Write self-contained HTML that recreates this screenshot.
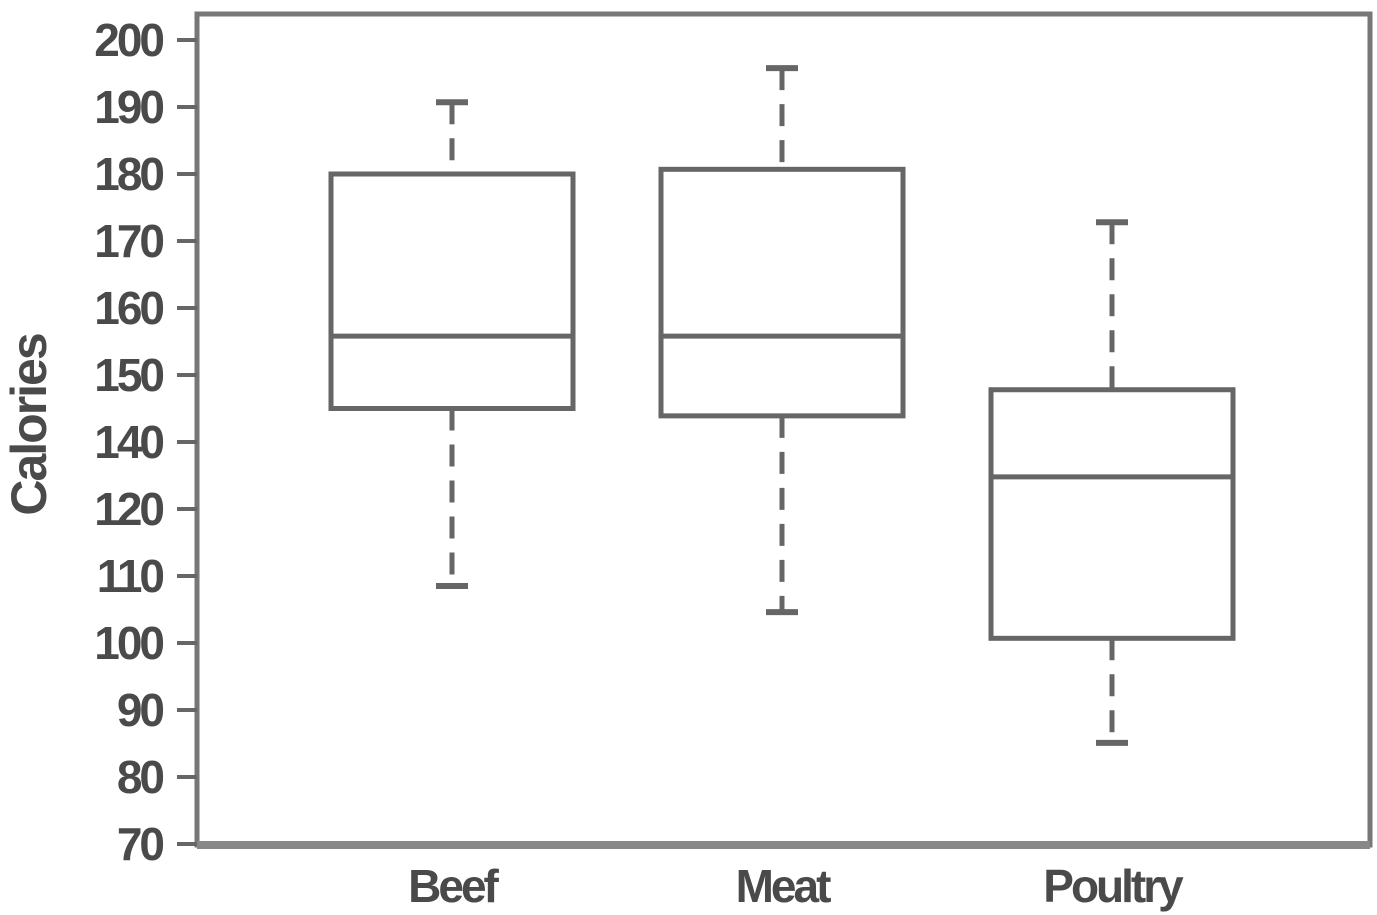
<!DOCTYPE html>
<html><head><meta charset="utf-8"><style>
html,body{margin:0;padding:0;background:#fff;}
svg{display:block;}
text{font-family:"Liberation Sans",sans-serif;fill:#4a4a4a;}
</style></head><body>
<svg id="chart" width="1377" height="915" viewBox="0 0 1377 915"></svg>
<script>
const categories = ["Beef", "Meat", "Poultry"];
const whiskerHigh = [190.7, 195.8, 172.8];
const q3Values = [180, 180.7, 147.8];
const medianValues = [155.8, 155.8, 134.8];
const q1Values = [145, 143.9, 110.7];
const whiskerLow = [118.5, 114.6, 95.1];
const tickValues = [200, 190, 180, 170, 160, 150, 140, 130, 120, 110, 100, 90, 80];
const tickLabels = ["200", "190", "180", "170", "160", "150", "140", "120", "110", "100", "90", "80", "70"];

const NS = "http://www.w3.org/2000/svg";
const svg = document.getElementById("chart");
const L = 197, R = 1370, T = 14, B = 845;
const yMax = 200, yMin = 80, yTop = 40, yBot = 844;
function y(v){ return yTop + (yMax - v) / (yMax - yMin) * (yBot - yTop); }
const bandW = 330;
function x(i){ return 452 + i * bandW; }
function mk(tag, attrs, parent){
  const e = document.createElementNS(NS, tag);
  for (const k in attrs) e.setAttribute(k, attrs[k]);
  (parent || svg).appendChild(e);
  return e;
}
const stroke = "#666";
const frame = mk("rect", {x:L, y:T, width:R-L, height:B-T, fill:"none", stroke:"#777", "stroke-width":5});


const bottomAxis = mk("line", {x1:L, x2:R, y1:B, y2:B, stroke:"#888", "stroke-width":8});


tickValues.forEach((v, i) => {
  const yy = y(v);
  const t = mk("line", {x1:177, x2:L, y1:yy, y2:yy, stroke:"#666", "stroke-width":4});
  
  
  const lb = mk("text", {x:162, y:yy+16, "text-anchor":"end", "font-size":46, "letter-spacing":"-3", "font-weight":"bold", fill:"#555"});
  lb.textContent = tickLabels[i];
  
  
});
const yt = mk("text", {x:0, y:0, transform:"translate(46,425) rotate(-90)", "text-anchor":"middle", "font-size":50, "font-weight":"bold", "letter-spacing":"-2", fill:"#444"});
yt.textContent = "Calories";


const boxHalf = 121, capHalf = 16;
categories.forEach((c, i) => {
  const cx = x(i);
  const g = mk("g", {});
  
  
  mk("line", {x1:cx, x2:cx, y1:y(whiskerHigh[i]), y2:y(q3Values[i]), stroke:stroke, "stroke-width":5, "stroke-dasharray":"22 14"}, g);
  mk("line", {x1:cx, x2:cx, y1:y(q1Values[i]), y2:y(whiskerLow[i]), stroke:stroke, "stroke-width":5, "stroke-dasharray":"22 14"}, g);
  mk("line", {x1:cx-capHalf, x2:cx+capHalf, y1:y(whiskerHigh[i]), y2:y(whiskerHigh[i]), stroke:stroke, "stroke-width":6}, g);
  mk("line", {x1:cx-capHalf, x2:cx+capHalf, y1:y(whiskerLow[i]), y2:y(whiskerLow[i]), stroke:stroke, "stroke-width":6}, g);
  mk("rect", {x:cx-boxHalf, y:y(q3Values[i]), width:boxHalf*2, height:y(q1Values[i])-y(q3Values[i]), fill:"#fff", stroke:stroke, "stroke-width":5}, g);
  mk("line", {x1:cx-boxHalf, x2:cx+boxHalf, y1:y(medianValues[i]), y2:y(medianValues[i]), stroke:stroke, "stroke-width":5}, g);
  const lb = mk("text", {x:cx, y:902, "text-anchor":"middle", "font-size":46, "letter-spacing":"-3", "font-weight":"bold", fill:"#555"});
  lb.textContent = c;
  
  
});
</script>
</body></html>
